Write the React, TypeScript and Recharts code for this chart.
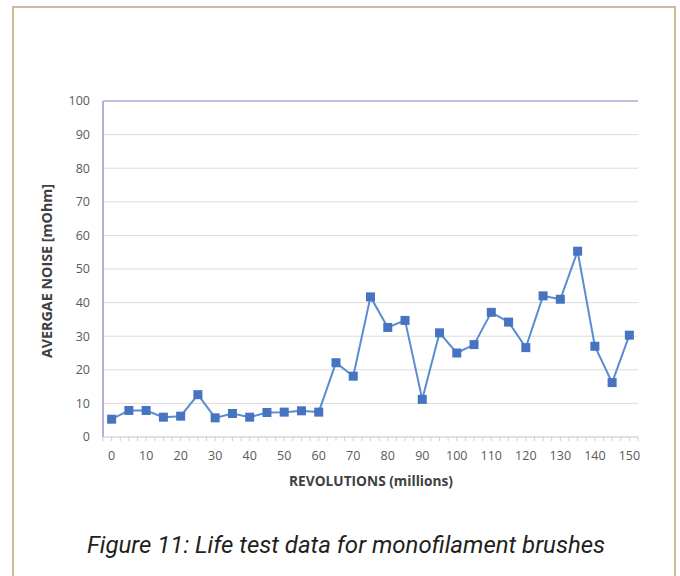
import React from "react";
import { LineChart, Line, XAxis, YAxis, CartesianGrid, ReferenceLine } from "recharts";

const revolutions = [0, 5, 10, 15, 20, 25, 30, 35, 40, 45, 50, 55, 60, 65, 70, 75, 80, 85, 90, 95, 100, 105, 110, 115, 120, 125, 130, 135, 140, 145, 150];
const noise = [5.3, 7.9, 7.9, 5.9, 6.2, 12.6, 5.7, 7.0, 5.9, 7.3, 7.4, 7.8, 7.4, 22.1, 18.1, 41.7, 32.6, 34.7, 11.2, 31.0, 25.0, 27.5, 37.1, 34.2, 26.6, 42.0, 41.0, 55.3, 27.0, 16.2, 30.3];
const yTicks = [0, 10, 20, 30, 40, 50, 60, 70, 80, 90, 100];
const xTicks = Array.from({ length: 63 }, (_, i) => -2.5 + i * 2.5);
const xTitle = "REVOLUTIONS (millions)";
const yTitle = "AVERGAE NOISE [mOhm]";
const caption = "Figure 11: Life test data for monofilament brushes";

const data = revolutions.map((r, i) => ({ rev: r, noise: noise[i] }));

const FONT = "'Open Sans', 'Noto Sans', sans-serif";
const PURPLE = "#b9aedb";

const SquareDot = (props: any) => {
  const { cx, cy } = props;
  if (cx == null || cy == null) return null;
  return <rect x={cx - 4.5} y={cy - 4.5} width={9} height={9} fill="#4674c1" />;
};

const XTick = (props: any) => {
  const { x, y, payload } = props;
  const v = payload.value;
  if (v < 0 || Math.abs(v % 10) > 1e-6) return null;
  return (
    <text x={x} y={y} dy={11} textAnchor="middle" fill="#595959" fontSize={12.5} fontFamily={FONT}>
      {v}
    </text>
  );
};

export default function App() {
  return (
    <div style={{ position: "absolute", left: 0, top: 0, width: 680, height: 576, background: "#fff", overflow: "hidden" }}>
      <div style={{ position: "absolute", left: 12, top: 6, width: 664, height: 600, border: "2px solid #cbbd95", boxSizing: "border-box" }} />
      <div style={{ position: "absolute", left: 0, top: 0 }}>
        <LineChart width={680} height={576} data={data} margin={{ top: 101, right: 42, bottom: 109, left: 43 }}>
          <CartesianGrid vertical={false} stroke="#dcdcdc" strokeWidth={1} />
          <XAxis
            dataKey="rev"
            type="number"
            domain={[-2.5, 152.5]}
            ticks={xTicks}
            interval={0}
            height={30}
            tick={<XTick />}
            tickSize={4}
            tickMargin={8}
            tickLine={{ stroke: "#d0cde0" }}
            axisLine={{ stroke: "#d6d6d6" }}
          />
          <YAxis
            domain={[0, 100]}
            ticks={yTicks}
            interval={0}
            width={60}
            tickLine={false}
            tickSize={0}
            tickMargin={13}
            axisLine={{ stroke: PURPLE, strokeWidth: 2 }}
            tick={{ fill: "#595959", fontSize: 12.5, fontFamily: FONT }}
          />
          <YAxis yAxisId="right" orientation="right" width={0} tick={false} tickLine={false} axisLine={{ stroke: PURPLE, strokeWidth: 1.5 }} />
          <ReferenceLine y={100} stroke={PURPLE} strokeWidth={1.5} />
          <Line
            dataKey="noise"
            stroke="#5b8bd2"
            strokeWidth={2}
            dot={<SquareDot />}
            activeDot={false}
            isAnimationActive={false}
          />
        </LineChart>
      </div>
      <div style={{ position: "absolute", left: 220, top: 471, width: 302, textAlign: "center", fontFamily: FONT, fontWeight: 700, fontSize: 13.7, color: "#404040" }}>
        {xTitle}
      </div>
      <div
        style={{
          position: "absolute",
          left: 46,
          top: 271,
          transform: "translate(-50%, -50%) rotate(-90deg)",
          whiteSpace: "nowrap",
          fontFamily: FONT,
          fontWeight: 700,
          fontSize: 14.3,
          color: "#404040",
        }}
      >
        {yTitle}
      </div>
      <div style={{ position: "absolute", left: 0, top: 531, width: 692, textAlign: "center", fontFamily: "Roboto, sans-serif", fontStyle: "italic", fontSize: 24, color: "#231f20" }}>
        {caption}
      </div>
    </div>
  );
}
